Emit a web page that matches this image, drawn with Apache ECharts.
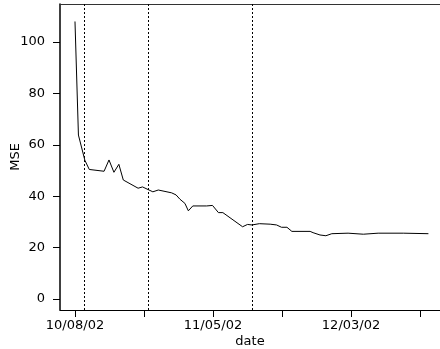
<!DOCTYPE html>
<html>
<head>
<meta charset="utf-8">
<script src="https://cdn.jsdelivr.net/npm/echarts@6/dist/echarts.min.js"></script>
<style>
html,body{margin:0;padding:0;background:#fff;}
#chart{width:440px;height:349px;}
</style>
</head>
<body>
<div id="chart"></div>
<script>
// Days elapsed since 10/08/02 for each observation
var days = [0, 0.7, 2.0, 2.9, 5.9, 6.9, 7.9, 8.9, 9.8, 12.8, 13.7, 15.8, 16.9, 19.6, 20.5, 21.3, 22.3, 23.0, 23.9, 26.7, 27.9, 29.1, 30.0, 34.0, 35.0, 35.9, 37.4, 39.6, 40.9, 41.9, 43.0, 44.0, 47.7, 48.3, 49.7, 50.9, 52.1, 55.4, 58.5, 61.5, 66.6, 71.7];
var mse  = [108, 63.8, 54, 50.4, 49.7, 54.1, 49.3, 52.4, 46.3, 43.1, 43.6, 41.7, 42.4, 41.3, 40.5, 38.8, 37.2, 34.3, 36.2, 36.2, 36.4, 33.6, 33.6, 28.1, 29.0, 28.8, 29.3, 29.1, 28.8, 27.9, 27.9, 26.3, 26.3, 25.8, 24.9, 24.6, 25.4, 25.6, 25.2, 25.6, 25.6, 25.4];
// Vertical dotted reference lines (days since 10/08/02)
var eventDays = [1.8, 14.9, 35.9];
// Axis ticks
var xTickDays = [0, 14, 28, 42, 56, 70];
var xLabelDays = [0, 28, 56];
var xTickLabels = ['10/08/02', '11/05/02', '12/03/02'];
var yTicks = [0, 20, 40, 60, 80, 100];

var points = days.map(function (d, i) { return [d, mse[i]]; });
var font = 'DejaVu Sans';

var chart = echarts.init(document.getElementById('chart'), null, {renderer: 'canvas'});
chart.setOption({
  animation: false,
  backgroundColor: '#fff',
  grid: {left: 60, right: 0, top: 4, bottom: 39, containLabel: false, outerBoundsMode: 'none'},
  xAxis: [{
    type: 'value',
    min: -3.04, max: 74.05,
    name: 'date', nameLocation: 'middle', nameGap: 25, nameMoveOverlap: false,
    nameTextStyle: {fontFamily: font, fontSize: 13, color: '#000'},
    axisLine: {show: true, onZero: false, lineStyle: {color: '#000', width: 1}},
    axisTick: {show: true, length: 7, customValues: xTickDays, lineStyle: {color: '#000'}},
    axisLabel: {
      customValues: xLabelDays, margin: 9,
      fontFamily: font, fontSize: 13, color: '#000',
      formatter: function (v) { var i = xLabelDays.indexOf(v); return i >= 0 ? xTickLabels[i] : ''; }
    },
    splitLine: {show: false}
  }, {
    type: 'value', position: 'top',
    min: -3.04, max: 74.05,
    axisLine: {show: true, onZero: false, lineStyle: {color: '#333', width: 1}},
    axisTick: {show: false}, axisLabel: {show: false}, splitLine: {show: false}
  }],
  yAxis: {
    type: 'value',
    min: -4.3, max: 114.8,
    name: 'MSE', nameLocation: 'middle', nameGap: 38, nameMoveOverlap: false,
    nameTextStyle: {fontFamily: font, fontSize: 13, color: '#000'},
    axisLine: {show: true, onZero: false, lineStyle: {color: '#000', width: 1.5}},
    axisTick: {show: true, length: 7, customValues: yTicks, lineStyle: {color: '#000'}},
    axisLabel: {customValues: yTicks, margin: 15, fontFamily: font, fontSize: 13, color: '#000'},
    splitLine: {show: false}
  },
  series: [{
    type: 'line',
    data: points,
    showSymbol: false,
    lineStyle: {color: '#000', width: 1},
    markLine: {
      silent: true,
      symbol: ['none', 'none'],
      label: {show: false},
      lineStyle: {color: '#000', width: 1, type: [2, 2]},
      data: eventDays.map(function (d) { return {xAxis: d}; })
    }
  }]
});
</script>
</body>
</html>
